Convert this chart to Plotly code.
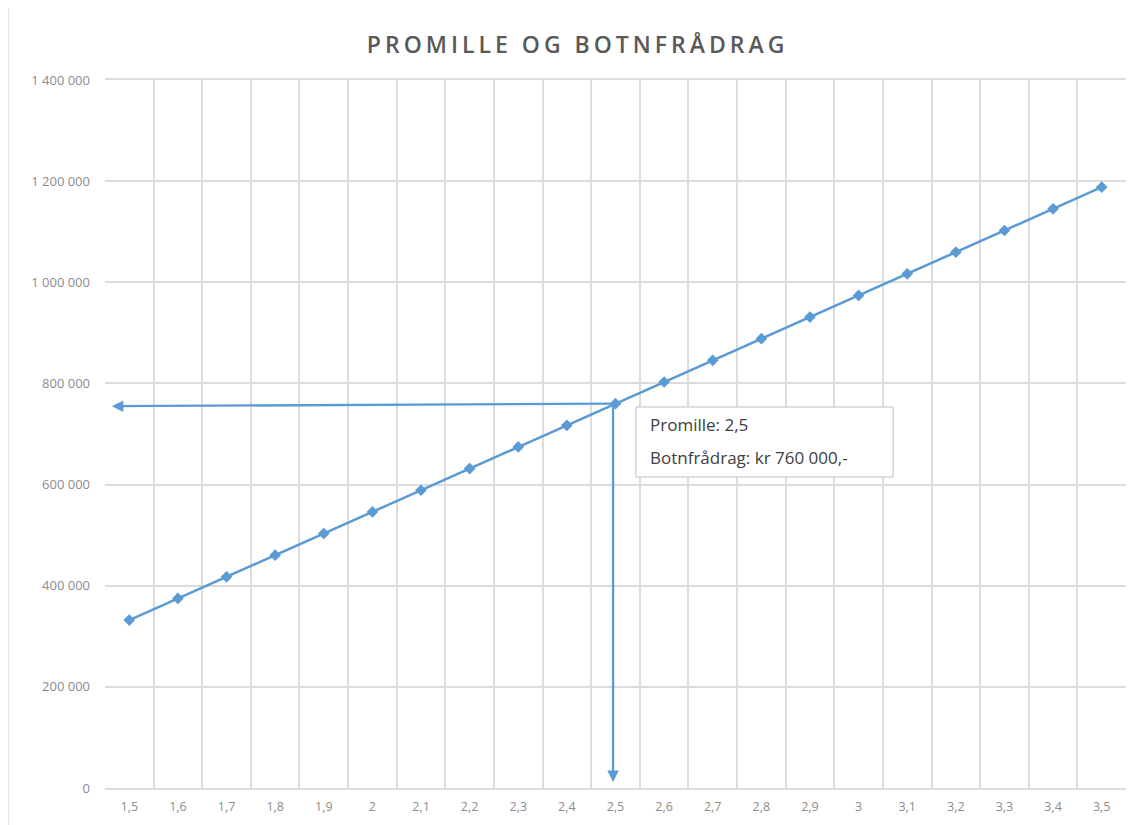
import plotly.graph_objects as go

# Data
promille = ["1,5", "1,6", "1,7", "1,8", "1,9", "2", "2,1", "2,2", "2,3", "2,4", "2,5",
            "2,6", "2,7", "2,8", "2,9", "3", "3,1", "3,2", "3,3", "3,4", "3,5"]
botnfradrag = [332000, 374800, 417600, 460400, 503200, 546000, 588800, 631600, 674400,
               717200, 760000, 802800, 845600, 888400, 931200, 974000, 1016800, 1059600,
               1102400, 1145200, 1188000]
y_ticks = [0, 200000, 400000, 600000, 800000, 1000000, 1200000, 1400000]
y_ticktext = ["0", "200 000", "400 000", "600 000", "800 000", "1 000 000", "1 200 000", "1 400 000"]

sel_index = 10  # 2,5
sel_value = 760000
left_arrow_value = 755000
bottom_arrow_value = 12000
label_lines = ["Promille: 2,5", "Botnfrådrag: kr 760 000,-"]

BLUE = "#5B9BD5"
GRID = "#dcdcdc"

fig = go.Figure()
fig.add_trace(go.Scatter(
    x=promille, y=botnfradrag, mode="lines+markers",
    line=dict(color=BLUE, width=2.5),
    marker=dict(symbol="diamond", size=9, color=BLUE),
    showlegend=False, hoverinfo="x+y"
))

# Horizontal arrow to y-axis
fig.add_annotation(
    x=-0.36, y=left_arrow_value, ax=sel_index, ay=sel_value,
    xref="x", yref="y", axref="x", ayref="y",
    showarrow=True, arrowhead=2, arrowsize=1.0, arrowwidth=2.3, arrowcolor=BLUE, text=""
)
# Vertical arrow to x-axis
fig.add_annotation(
    x=sel_index - 0.05, y=bottom_arrow_value, ax=sel_index - 0.05, ay=sel_value,
    xref="x", yref="y", axref="x", ayref="y",
    showarrow=True, arrowhead=2, arrowsize=1.0, arrowwidth=2.3, arrowcolor=BLUE, text=""
)
# Label box
fig.add_shape(type="rect", xref="x", yref="y", x0=10.42, x1=15.71, y0=615000, y1=753400,
              line=dict(color="#bfbfbf", width=1), fillcolor="white", layer="above")
for txt, yv in zip(label_lines, [718700, 654500]):
    fig.add_annotation(
        x=10.66, y=yv, xref="x", yref="y", xanchor="left", yanchor="middle",
        showarrow=False, align="left", text=txt,
        font=dict(family="Open Sans, Lato, sans-serif", size=17, color="#404040")
    )

# Outer chart border
fig.add_shape(type="rect", xref="paper", yref="paper",
              x0=-0.095, x1=1.02, y0=-0.08, y1=1.1045,
              line=dict(color=GRID, width=1.5), fillcolor="rgba(0,0,0,0)", layer="below")

fig.update_layout(
    width=1128, height=817,
    margin=dict(l=97, r=10, t=72, b=37),
    paper_bgcolor="white", plot_bgcolor="white",
    title=dict(text="PROMILLE OG BOTNFRÅDRAG", x=0.505, xanchor="center", y=0.955, yanchor="middle",
               font=dict(family="Open Sans, sans-serif", size=23, color="#595959", weight=600)),
    xaxis=dict(
        type="category", tickson="boundaries", showgrid=True, gridcolor=GRID, gridwidth=1.5,
        showline=True, linecolor=GRID, linewidth=1.5, mirror=True, ticks="",
        ticklabelstandoff=6,
        tickfont=dict(family="Open Sans, sans-serif", size=12.5, color="#8c8c8c"),
        range=[-0.5, 20.5], fixedrange=True
    ),
    yaxis=dict(
        range=[0, 1400000], tickvals=y_ticks, ticktext=y_ticktext,
        showgrid=True, gridcolor=GRID, gridwidth=1.5, zeroline=False,
        showline=False, ticks="", ticklabelstandoff=14,
        tickfont=dict(family="Open Sans, sans-serif", size=13, color="#8c8c8c"),
        fixedrange=True
    ),
)

fig.write_html(
    "out.html",
    post_script="document.querySelectorAll('.gtitle').forEach(function(e){e.style.letterSpacing='4px';});"
)
